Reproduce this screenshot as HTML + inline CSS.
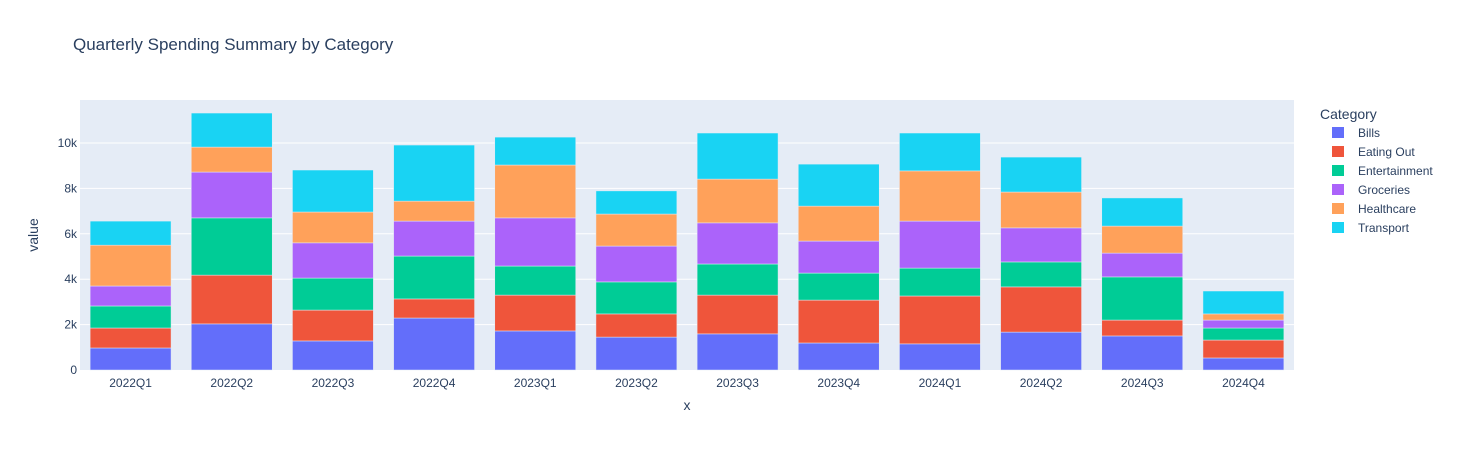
<!DOCTYPE html>
<html><head><meta charset="utf-8"><style>
body{margin:0;background:#fff;font-family:"Liberation Sans",Arial,sans-serif;}
svg text{font-family:"Liberation Sans",Arial,sans-serif;fill:#2a3f5f;}
</style></head><body>
<svg id="chart" width="1462" height="450">
<rect x="0" y="0" width="1462" height="450" fill="#fff"/>
<text x="73" y="50" font-size="17">Quarterly Spending Summary by Category</text>
<rect x="80" y="100" width="1214" height="270" fill="#e5ecf6"/>
<g id="grid"></g><g id="bars"></g><g id="axes"></g><g id="legend"></g>
<text x="687" y="410" font-size="14" text-anchor="middle">x</text>
<text x="38" y="235" font-size="14" text-anchor="middle" transform="rotate(-90 38 235)">value</text>
</svg>
<script>
const categories=["2022Q1","2022Q2","2022Q3","2022Q4","2023Q1","2023Q2","2023Q3","2023Q4","2024Q1","2024Q2","2024Q3","2024Q4"];
const seriesNames=["Bills","Eating Out","Entertainment","Groceries","Healthcare","Transport"];
const bills=[970,2030,1280,2290,1720,1450,1590,1190,1150,1670,1500,530];
const eatingOut=[880,2150,1360,840,1580,1020,1710,1890,2110,1990,700,790];
const entertainment=[970,2520,1410,1890,1280,1410,1370,1190,1230,1100,1900,530];
const groceries=[880,2020,1550,1540,2120,1580,1810,1410,2070,1500,1050,350];
const healthcare=[1800,1100,1360,880,2330,1410,1930,1540,2210,1580,1190,270];
const transport=[1060,1500,1850,2470,1230,1020,2030,1850,1670,1540,1240,1010];
const yTicks=[0,2000,4000,6000,8000,10000];
const yTickLabels=["0","2k","4k","6k","8k","10k"];
const colors=["#636efa","#EF553B","#00cc96","#ab63fa","#FFA15A","#19d3f3"];
const series=[bills,eatingOut,entertainment,groceries,healthcare,transport];
const NS="http://www.w3.org/2000/svg";
const X0=80,W=1214,Y0=370,PX=22.7/1000;
const band=W/categories.length;
const y=v=>Y0-v*PX;
const xc=i=>X0+band*(i+0.5);
function mk(t,a,p){const e=document.createElementNS(NS,t);for(const k in a)e.setAttribute(k,a[k]);p.appendChild(e);return e;}
const grid=document.getElementById('grid'),bars=document.getElementById('bars'),axes=document.getElementById('axes'),leg=document.getElementById('legend');
yTicks.forEach((t,i)=>{
 if(t>0){const l=mk('line',{x1:X0,x2:X0+W,y1:y(t),y2:y(t),stroke:'#fff','stroke-width':1},grid);
 
 }
 const tx=mk('text',{x:X0-3,y:y(t)+4,'font-size':12,'text-anchor':'end'},axes);tx.textContent=yTickLabels[i];
 
 
});
categories.forEach((c,i)=>{
 let cum=0;
 series.forEach((s,k)=>{
  const v=s[i];
  const r=mk('rect',{x:xc(i)-band*0.4,width:band*0.8,y:y(cum+v),height:v*PX,fill:colors[k],stroke:'#e5ecf6','stroke-width':0.5},bars);
  
  
  cum+=v;
 });
 const tx=mk('text',{x:xc(i),y:387,'font-size':12,'text-anchor':'middle'},axes);tx.textContent=c;
 
 
});
const lt=mk('text',{x:1320,y:119,'font-size':14},leg);lt.textContent="Category";


seriesNames.forEach((n,k)=>{
 const g=mk('g',{},leg);
 
 
 mk('rect',{x:1332,y:127+k*19,width:12,height:11,fill:colors[k]},g);
 const t=mk('text',{x:1358,y:137+k*19,'font-size':12},g);t.textContent=n;
});
</script>
</body></html>
